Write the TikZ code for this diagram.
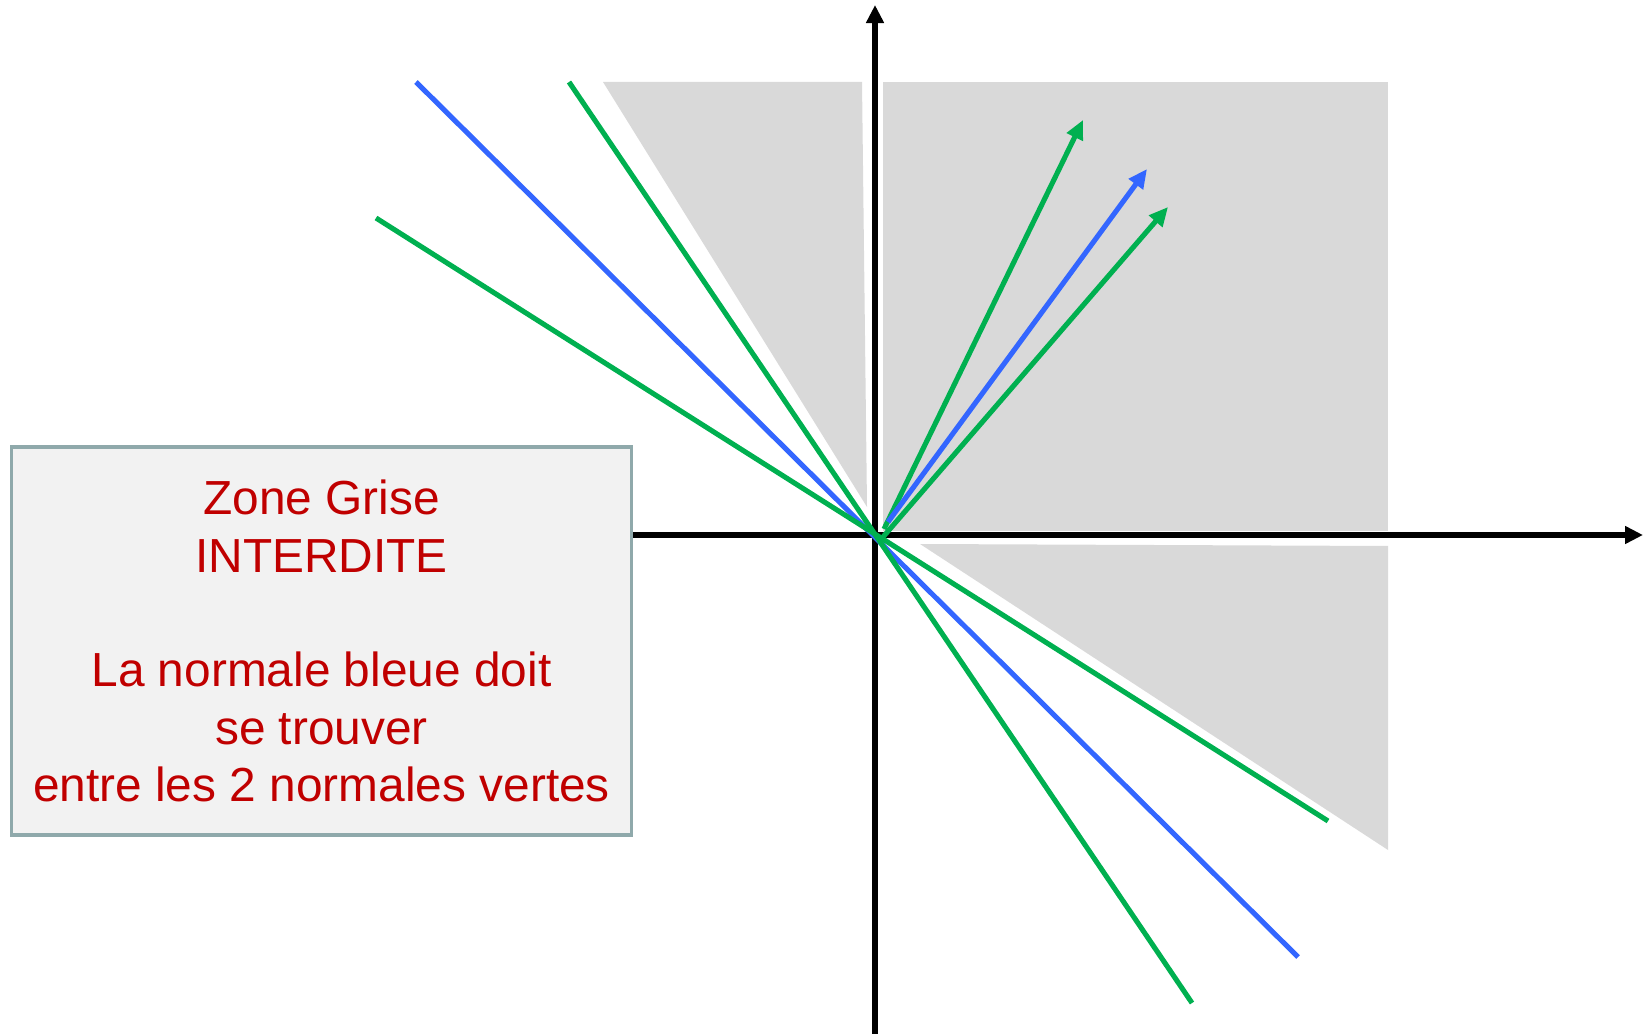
\documentclass[tikz,border=0pt]{standalone}
\usepackage{fontspec}
\setmainfont{Liberation Sans}
\usetikzlibrary{arrows.meta,positioning}
\definecolor{zonegris}{HTML}{D9D9D9}
\definecolor{fondboite}{HTML}{F2F2F2}
\definecolor{bordboite}{HTML}{8FA9AB}
\definecolor{rouge}{HTML}{C00000}
\definecolor{bleu}{HTML}{3366FF}
\definecolor{vert}{HTML}{00B050}
\tikzset{
  zone/.style={fill=zonegris, draw=none},
  axe/.style={-{Triangle[length=1.8mm, width=1.7mm]}, line width=1.6pt},
  normbleue/.style={draw=bleu, line width=1.45pt},
  normverte/.style={draw=vert, line width=1.45pt},
  fleche/.style={-{Triangle[length=1.9mm, width=1.7mm]}},
  boite/.style={draw=bordboite, fill=fondboite, line width=1pt, align=center,
    minimum width=6.2cm, minimum height=3.88cm, text=rouge,
    font=\fontsize{13.6}{16.3}\selectfont}
}

\begin{document}
\begin{tikzpicture}[x=0.01cm, y=-0.01cm]
\useasboundingbox (0,0) rectangle (1643,1034);
% zones grises
\fill[zone] (603,82) -- (862,82) -- (867,507) -- cycle;
\fill[zone] (883,82) rectangle (1388,531);
\fill[zone] (920,544) -- (1388,546) -- (1388,850) -- cycle;
% axes
\coordinate (O) at (875,535);
\coordinate (ybas) at (875,1034);
\coordinate (yhaut) at (875,5);
\coordinate (xdroite) at (1643,535);
\node[boite] (box) at (321.5,641) {Zone Grise\\INTERDITE\\[16.3pt]La normale bleue doit\\se trouver\\entre les 2 normales vertes};
\draw[axe] (box.east |- O) -- (xdroite);
\draw[axe] (ybas) -- (yhaut);
% normales de part et d'autre
\coordinate (b1) at (416,82);
\coordinate (b2) at (1298,957);
\coordinate (v1) at (569,82);
\coordinate (v2) at (1192,1003);
\coordinate (v3) at (376,218);
\coordinate (v4) at (1328,821);
\draw[normbleue] (b1) -- (b2);
\draw[normverte] (v1) -- (v2);
\draw[normverte] (v3) -- (v4);
% normales fleches
\coordinate (fv1) at (884,529);
\coordinate (fv1t) at (1083,120);
\coordinate (fb) at (888,522);
\coordinate (fbt) at (1147,169);
\coordinate (fv2) at (883,537);
\coordinate (fv2t) at (1168,207);
\draw[normverte, fleche] (fv1) -- (fv1t);
\draw[normbleue, fleche] (fb) -- (fbt);
\draw[normverte, fleche] (fv2) -- (fv2t);
\end{tikzpicture}
\end{document}
